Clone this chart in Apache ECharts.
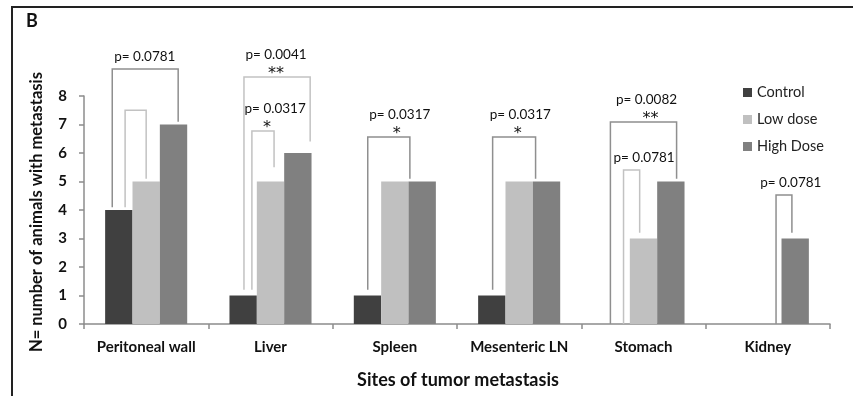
<!DOCTYPE html>
<html>
<head>
<meta charset="utf-8">
<script src="https://cdn.jsdelivr.net/npm/echarts@6/dist/echarts.min.js"></script>
<style>html,body{margin:0;padding:0;background:#fff}#c{width:853px;height:396px}</style>
</head>
<body>
<div id="c"></div>
<script>
// ---- data ----
const categories = ['Peritoneal wall', 'Liver', 'Spleen', 'Mesenteric LN', 'Stomach', 'Kidney'];
const controlValues = [4, 1, 1, 1, 0, 0];
const lowDoseValues = [5, 5, 5, 5, 3, 0];
const highDoseValues = [7, 6, 5, 5, 5, 3];
const yTicks = [0, 1, 2, 3, 4, 5, 6, 7, 8];

// significance brackets (positions in bar units within a category group, heights in data units)
const bracketCat = [0, 0, 1, 1, 2, 3, 4, 4, 5];
const bracketLeftBar = [-0.24, 0.23, 0.03, 0.32, 0.01, 0.03, -0.21, 0.27, 1.3];
const bracketRightBar = [2.17, 1.0, 2.45, 1.13, 1.55, 1.6, 2.21, 0.86, 1.88];
const bracketTop = [8.95, 7.5, 8.67, 6.77, 6.56, 6.56, 7.09, 5.4, 4.53];
const bracketLeftEnd = [4.1, 4.1, 1.2, 1.2, 1.2, 1.2, 0, 0, 0];
const bracketRightEnd = [7.1, 5.1, 6.4, 5.5, 5.1, 5.1, 5.1, 3.2, 3.2];
const bracketLabelBar = [0.95, 1.0, 1.2, 1.17, 1.18, 1.04, 1.11, 1.02, 1.84];
const bracketStarBar = [1.0, 1.0, 1.2, 0.87, 1.07, 0.95, 1.26, 1.0, 1.84];
const bracketP = ['p= 0.0781', '', 'p= 0.0041', 'p= 0.0317', 'p= 0.0317', 'p= 0.0317', 'p= 0.0082', 'p= 0.0781', 'p= 0.0781'];
const bracketStars = ['', '', '**', '*', '*', '*', '**', '', ''];
const bracketLight = [false, true, true, true, false, false, false, true, false];

const seriesNames = ['Control', 'Low dose', 'High Dose'];
const colors = ['#404040', '#c0c0c0', '#808080'];
const catGapRatio = 0.34;

const bracketData = bracketCat.map((c, i) => [c, bracketLeftBar[i], bracketRightBar[i], bracketTop[i],
  bracketLeftEnd[i], bracketRightEnd[i], bracketLabelBar[i], bracketStarBar[i]]);

const chart = echarts.init(document.getElementById('c'));
const FONT = 'Lato, "Open Sans", sans-serif';

function renderBracket(params, api) {
  const i = params.dataIndex;
  const cat = api.value(0);
  const band = api.size([1, 0])[0];
  const center = api.coord([cat, 0])[0];
  const groupW = band * (1 - catGapRatio);
  const barW = groupW / 3;
  const gl = center - groupW / 2;
  const bx = b => gl + barW * (b + 0.5);
  const yv = v => api.coord([cat, v])[1];
  const xl = bx(api.value(1)), xr = bx(api.value(2));
  const yt = yv(api.value(3)), yle = yv(api.value(4)), yre = yv(api.value(5));
  const stroke = bracketLight[i] ? '#c2c2c2' : '#8f8f8f';
  const children = [{
    type: 'polyline',
    shape: { points: [[xl, yle], [xl, yt], [xr, yt], [xr, yre]] },
    style: { stroke: stroke, lineWidth: 1.5, fill: null }
  }];
  const hasStar = bracketStars[i] !== '';
  if (bracketP[i]) {
    children.push({
      type: 'text',
      style: { text: bracketP[i], x: bx(api.value(6)), y: yt - (hasStar ? 22 : 12),
        align: 'center', verticalAlign: 'middle', font: '13.5px ' + FONT, fill: '#111' }
    });
  }
  if (hasStar) {
    children.push({
      type: 'text',
      style: { text: bracketStars[i], x: bx(api.value(7)), y: yt - 3,
        align: 'center', verticalAlign: 'middle', font: '16px "DejaVu Sans", sans-serif', fill: '#111' }
    });
  }
  return { type: 'group', children: children };
}

const barSeries = [controlValues, lowDoseValues, highDoseValues].map((vals, k) => ({
  name: seriesNames[k],
  type: 'bar',
  data: vals,
  barGap: '0%',
  barCategoryGap: (catGapRatio * 100) + '%',
  itemStyle: { color: colors[k] },
  emphasis: { disabled: true }
}));

chart.setOption({
  animation: false,
  backgroundColor: '#fff',
  grid: { left: 84, right: 23, top: 96, bottom: 72 },
  legend: {
    data: seriesNames,
    orient: 'vertical',
    left: 738,
    top: 80,
    icon: 'rect',
    itemWidth: 9,
    itemHeight: 9,
    itemGap: 12,
    textStyle: { fontFamily: FONT, fontSize: 14.5, color: '#222' }
  },
  xAxis: {
    type: 'category',
    data: categories,
    axisLine: { lineStyle: { color: '#8c8c8c', width: 1.5 } },
    axisTick: { show: true, length: 5, lineStyle: { color: '#8c8c8c', width: 1.5 } },
    axisLabel: { interval: 0, fontFamily: FONT, fontWeight: 'bold', fontSize: 15, color: '#111', margin: 16 }
  },
  yAxis: {
    type: 'value',
    min: 0, max: 8, interval: 1,
    splitLine: { show: false },
    axisLine: { show: true, lineStyle: { color: '#8c8c8c', width: 1.5 } },
    axisTick: { show: true, length: 5, lineStyle: { color: '#8c8c8c', width: 1.5 } },
    axisLabel: { fontFamily: FONT, fontWeight: 'bold', fontSize: 15, color: '#111', margin: 17,
      formatter: v => yTicks.indexOf(v) >= 0 ? String(v) : '' }
  },
  series: barSeries.concat([{
    type: 'custom',
    renderItem: renderBracket,
    data: bracketData,
    encode: { x: 0, y: 3 },
    clip: false,
    z: 5,
    silent: true
  }]),
  graphic: [
    { type: 'rect', shape: { x: 12, y: 7, width: 900, height: 500 }, style: { fill: null, stroke: '#222', lineWidth: 2 }, silent: true },
    { type: 'text', style: { text: 'B', x: 26, y: 12, font: 'bold 18px ' + FONT, fill: '#111' } },
    { type: 'text', x: 37, y: 212, rotation: Math.PI / 2,
      style: { text: 'N= number of animals with metastasis', x: 0, y: 0, align: 'center', verticalAlign: 'middle',
        font: 'bold 16.5px ' + FONT, fill: '#111' } },
    { type: 'text', style: { text: 'Sites of tumor metastasis', x: 458, y: 380, align: 'center', verticalAlign: 'middle',
        font: 'bold 18px ' + FONT, fill: '#111' } }
  ]
});
</script>
</body>
</html>
